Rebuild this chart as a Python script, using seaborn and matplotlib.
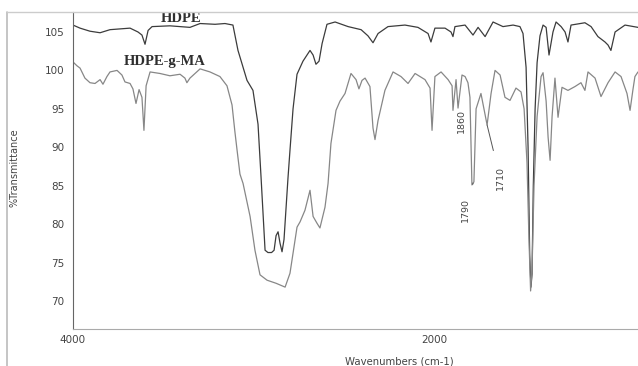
import matplotlib
matplotlib.use("Agg")
import matplotlib.pyplot as plt
from matplotlib.lines import Line2D
from matplotlib.ticker import MultipleLocator
import seaborn as sns
import pandas as pd

# ---------------- data ----------------
wn_hdpe = [4000, 3961, 3906, 3850, 3795, 3740, 3684, 3640, 3618, 3601, 3584, 3562,
           3463, 3352, 3296, 3213, 3158, 3114, 3086, 3036, 3003, 2975, 2958, 2936,
           2920, 2900, 2886, 2875, 2864, 2853, 2842, 2831, 2820, 2809, 2798, 2781,
           2759, 2726, 2687, 2670, 2654, 2637, 2620, 2593, 2548, 2476, 2404, 2366,
           2338, 2310, 2255, 2161, 2089, 2033, 2017, 1995, 1939, 1906, 1895, 1884,
           1828, 1784, 1756, 1717, 1673, 1618, 1562, 1524, 1507, 1490, 1479, 1470,
           1463, 1457, 1450, 1440, 1429, 1413, 1396, 1379, 1363, 1341, 1324, 1296,
           1274, 1258, 1241, 1164, 1130, 1092, 1053, 1036, 1020, 997, 942, 870]
t_hdpe = [105.9, 105.5, 105.1, 104.9, 105.3, 105.4, 105.5, 105.0, 104.6, 103.4, 105.2, 105.7,
          105.8, 105.6, 106.1, 106.0, 106.1, 105.9, 102.6, 98.7, 97.4, 93.0, 86.0, 76.6,
          76.3, 76.3, 76.6, 78.5, 79.0, 77.5, 76.4, 78.0, 82.0, 86.0, 89.6, 95.0,
          99.5, 101.2, 102.6, 102.0, 100.8, 101.2, 103.5, 106.0, 106.3, 105.7, 105.3, 104.5,
          103.6, 104.8, 105.7, 105.9, 105.6, 104.8, 103.7, 105.5, 105.5, 105.0, 104.4, 105.7,
          105.9, 104.6, 105.6, 104.4, 106.3, 105.7, 105.9, 105.7, 104.8, 100.4, 90.0, 76.0,
          71.8, 73.5, 85.0, 95.0, 101.0, 104.5, 105.9, 105.6, 102.0, 105.0, 106.3, 105.7,
          105.0, 103.7, 105.9, 106.2, 105.7, 104.4, 103.7, 103.3, 102.6, 105.0, 105.9, 105.6]

wn_ma = [4000, 3978, 3961, 3934, 3906, 3878, 3850, 3834, 3812, 3795, 3756, 3729,
         3712, 3684, 3668, 3651, 3634, 3618, 3607, 3595, 3573, 3518, 3463, 3407,
         3380, 3369, 3352, 3296, 3241, 3186, 3147, 3119, 3103, 3091, 3075, 3058,
         3019, 2992, 2964, 2925, 2875, 2825, 2798, 2759, 2742, 2715, 2687, 2670,
         2648, 2632, 2604, 2587, 2571, 2543, 2521, 2493, 2460, 2432, 2416, 2399,
         2382, 2355, 2338, 2327, 2310, 2272, 2227, 2183, 2144, 2105, 2050, 2022,
         2011, 1995, 1961, 1922, 1900, 1895, 1878, 1867, 1845, 1828, 1812, 1801,
         1790, 1779, 1767, 1740, 1706, 1684, 1662, 1634, 1607, 1579, 1546, 1518,
         1501, 1485, 1474, 1465, 1457, 1446, 1429, 1407, 1396, 1379, 1368, 1357,
         1346, 1330, 1313, 1291, 1258, 1219, 1186, 1164, 1147, 1108, 1075, 1036,
         997, 964, 931, 914, 898, 887, 870]
t_ma = [101.1, 100.6, 100.3, 99.0, 98.4, 98.3, 98.8, 98.2, 99.2, 99.8, 100.0, 99.4,
        98.5, 98.3, 97.6, 95.7, 97.5, 96.5, 92.2, 98.0, 99.8, 99.6, 99.3, 99.5,
        99.0, 98.4, 99.0, 100.2, 99.8, 99.2, 98.0, 95.5, 92.0, 89.6, 86.5, 85.3,
        81.0, 76.6, 73.4, 72.7, 72.3, 71.8, 73.6, 79.6, 80.3, 81.8, 84.4, 81.0,
        80.1, 79.5, 82.2, 85.3, 90.5, 94.8, 96.0, 97.0, 99.6, 98.8, 97.6, 98.7,
        99.0, 97.9, 92.5, 91.0, 93.5, 97.4, 99.8, 99.2, 98.3, 99.6, 98.8, 97.7,
        92.2, 99.2, 99.8, 98.8, 98.0, 94.8, 98.8, 95.1, 99.4, 99.2, 98.4, 96.5,
        85.1, 85.5, 95.0, 97.0, 92.9, 97.0, 100.0, 99.4, 96.5, 96.1, 97.7, 97.2,
        95.0, 88.0, 78.0, 71.3, 74.0, 85.0, 94.0, 99.2, 99.7, 96.0, 91.3, 88.3,
        94.0, 99.0, 93.9, 97.8, 97.4, 97.9, 98.4, 97.4, 99.8, 99.0, 96.6, 98.4,
        99.8, 99.2, 97.0, 94.8, 97.5, 99.2, 99.8]

series_names = ["HDPE", "HDPE-g-MA"]
peak_labels = ["1860", "1790", "1710"]

xtick_values = [4000, 3500, 3000, 2500, 2000, 1500, 1000]
xtick_labels = ["4000", "", "", "", "2000", "", ""]
ytick_values = [70, 75, 80, 85, 90, 95, 100, 105]

df = pd.concat([
    pd.DataFrame({"wn": wn_hdpe, "T": t_hdpe, "s": series_names[0]}),
    pd.DataFrame({"wn": wn_ma, "T": t_ma, "s": series_names[1]}),
], ignore_index=True)

# ---------------- figure ----------------
sns.set_style("white")
plt.rcParams["font.family"] = ["DejaVu Sans"]

W, H = 638, 366
fig = plt.figure(figsize=(W / 100, H / 100), dpi=100)
fig.patch.set_facecolor("white")
ax = fig.add_axes([73 / W, 1 - 329 / H, (W - 73) / W, (329 - 12) / H])

sns.lineplot(data=df, x="wn", y="T", hue="s", estimator=None, sort=False,
             palette={"HDPE": "#3c3c3c", "HDPE-g-MA": "#878787"},
             linewidth=0.9, legend=False, ax=ax)

ax.set_xlim(4000, 870)
ax.set_ylim(66.35, 107.6)
ax.set_xlabel("")
ax.set_ylabel("")

ax.set_xticks(xtick_values)
ax.set_xticklabels(xtick_labels)
ax.set_yticks(ytick_values)
ax.yaxis.set_minor_locator(MultipleLocator(1))
ax.tick_params(axis="x", which="major", direction="inout", length=3, width=0.7,
               color="#888888", labelsize=7.5, labelcolor="#444444", pad=3)
ax.tick_params(axis="y", which="major", direction="out", length=4, width=0.8,
               color="#555555", labelsize=7.5, labelcolor="#444444", pad=2)
ax.tick_params(axis="y", which="minor", direction="inout", length=2.5, width=0.8,
               color="#666666")

for sp in ["top", "right"]:
    ax.spines[sp].set_visible(False)
ax.spines["left"].set_color("#666666")
ax.spines["left"].set_linewidth(0.8)
ax.spines["bottom"].set_color("#aaaaaa")
ax.spines["bottom"].set_linewidth(0.8)

# series labels
ax.text(3399, 106.8, series_names[0], family=["Liberation Serif", "DejaVu Serif"],
        weight="bold", fontsize=10.5, color="#2e2e2e", ha="center", va="center")
ax.text(3490, 101.2, series_names[1], family=["Liberation Serif", "DejaVu Serif"],
        weight="bold", fontsize=10.5, color="#2e2e2e", ha="center", va="center")

# peak annotations
ax.text(1850, 93.4, peak_labels[0], rotation=90, fontsize=6.8, color="#444444",
        ha="center", va="center")
ax.annotate(peak_labels[1], xy=(1784, 85.3), xytext=(1828, 81.8), rotation=90,
            fontsize=6.8, color="#444444", ha="center", va="center",
            arrowprops=dict(arrowstyle="-", color="#555555", lw=0.7,
                            shrinkA=8, shrinkB=0))
ax.annotate(peak_labels[2], xy=(1706, 92.9), xytext=(1634, 86.0), rotation=90,
            fontsize=6.8, color="#444444", ha="center", va="center",
            arrowprops=dict(arrowstyle="-", color="#555555", lw=0.7,
                            shrinkA=9, shrinkB=0))

# axis titles
fig.text(15 / W, 1 - 168 / H, "%Transmittance", rotation=90, fontsize=7,
         color="#444444", ha="center", va="center")
fig.text(399 / W, 1 - 361 / H, "Wavenumbers (cm-1)", fontsize=7.3,
         color="#444444", ha="center", va="center")

# outer frame lines
fig.add_artist(Line2D([7 / W, 7 / W], [0, 1 - 12 / H], transform=fig.transFigure,
                      color="#bbbbbb", lw=1.2))
fig.add_artist(Line2D([7 / W, 1], [1 - 12 / H, 1 - 12 / H], transform=fig.transFigure,
                      color="#cccccc", lw=1.0))

fig.savefig("out.png", dpi=100, facecolor="white")
